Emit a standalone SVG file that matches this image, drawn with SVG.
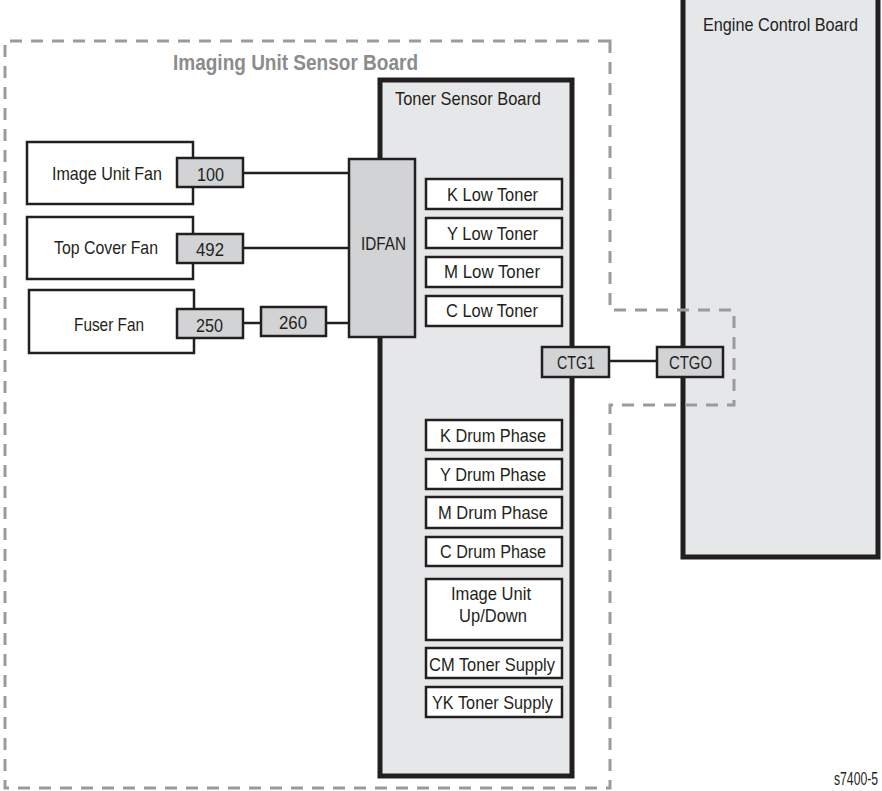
<svg xmlns="http://www.w3.org/2000/svg" width="882" height="791" viewBox="0 0 882 791">
<style>
text{font-family:"Liberation Sans Narrow","Liberation Sans",Arial,sans-serif;fill:#231f20;font-size:19px}
.board{fill:#e6e7e8;stroke:#231f20;stroke-width:5}
.box{fill:#fff;stroke:#231f20;stroke-width:2.5}
.conn{fill:#d1d3d4;stroke:#231f20;stroke-width:2.5}
.dash{fill:none;stroke:#999b9e;stroke-width:3;stroke-dasharray:12 9}
.wire{fill:none;stroke:#231f20;stroke-width:2.5}
.title{font-weight:bold;fill:#8a8c8e;font-size:22px}
</style>
<rect width="882" height="791" fill="#fff"/>
<g id="engine-control-board">
<rect class="board" x="683" y="-4" width="195" height="561"/>
<text x="703" y="31" textLength="155" lengthAdjust="spacingAndGlyphs">Engine Control Board</text>
</g>
<g id="imaging-unit-sensor-board">
<path class="dash" d="M610,41 H5 V788 H610 V405 H734 V310 H610 Z"/>
<text class="title" x="173" y="70" textLength="245" lengthAdjust="spacingAndGlyphs">Imaging Unit Sensor Board</text>
</g>
<g id="toner-sensor-board">
<rect class="board" x="380" y="80" width="192" height="696"/>
<text x="395" y="105" textLength="146" lengthAdjust="spacingAndGlyphs">Toner Sensor Board</text>
</g>
<g id="connectors">
<line class="wire" x1="243" y1="173" x2="349" y2="173"/>
<line class="wire" x1="243" y1="248" x2="349" y2="248"/>
<line class="wire" x1="243" y1="323" x2="261" y2="323"/>
<line class="wire" x1="326" y1="323" x2="349" y2="323"/>
<line class="wire" x1="609" y1="361" x2="657" y2="361"/>
</g>
<g id="image-unit-fan">
<rect class="box" x="27" y="142" width="166" height="62"/>
<text x="52" y="180" textLength="110" lengthAdjust="spacingAndGlyphs">Image Unit Fan</text>
<rect class="conn" x="177" y="158" width="66" height="29"/>
<text x="197" y="181" textLength="27" lengthAdjust="spacingAndGlyphs">100</text>
</g>
<g id="top-cover-fan">
<rect class="box" x="27" y="217" width="166" height="62"/>
<text x="54" y="254" textLength="104" lengthAdjust="spacingAndGlyphs">Top Cover Fan</text>
<rect class="conn" x="177" y="234" width="66" height="29"/>
<text x="196" y="256" textLength="28" lengthAdjust="spacingAndGlyphs">492</text>
</g>
<g id="fuser-fan">
<rect class="box" x="29" y="290" width="165" height="63"/>
<text x="74" y="331" textLength="70" lengthAdjust="spacingAndGlyphs">Fuser Fan</text>
<rect class="conn" x="177" y="309" width="66" height="29"/>
<text x="196" y="332" textLength="27" lengthAdjust="spacingAndGlyphs">250</text>
</g>
<g id="c260">
<rect class="conn" x="261" y="307" width="65" height="29"/>
<text x="279" y="329" textLength="28" lengthAdjust="spacingAndGlyphs">260</text>
</g>
<g id="idfan">
<rect class="conn" x="349" y="159" width="66" height="178"/>
<text x="361" y="250" textLength="45" lengthAdjust="spacingAndGlyphs">IDFAN</text>
</g>
<g id="k-low-toner"><rect class="box" x="426" y="179" width="136" height="30"/><text x="447" y="201" textLength="91" lengthAdjust="spacingAndGlyphs">K Low Toner</text></g>
<g id="y-low-toner"><rect class="box" x="426" y="218" width="136" height="30"/><text x="447" y="240" textLength="91" lengthAdjust="spacingAndGlyphs">Y Low Toner</text></g>
<g id="m-low-toner"><rect class="box" x="426" y="257" width="136" height="30"/><text x="444" y="278" textLength="96" lengthAdjust="spacingAndGlyphs">M Low Toner</text></g>
<g id="c-low-toner"><rect class="box" x="426" y="296" width="136" height="30"/><text x="446" y="317" textLength="92" lengthAdjust="spacingAndGlyphs">C Low Toner</text></g>
<g id="ctg1"><rect class="conn" x="542" y="347" width="67" height="30"/><text x="557" y="369" textLength="38" lengthAdjust="spacingAndGlyphs">CTG1</text></g>
<g id="ctgo"><rect class="conn" x="657" y="347" width="66" height="30"/><text x="669" y="369" textLength="43" lengthAdjust="spacingAndGlyphs">CTGO</text></g>
<g id="k-drum-phase"><rect class="box" x="426" y="420" width="136" height="30"/><text x="440" y="442" textLength="106" lengthAdjust="spacingAndGlyphs">K Drum Phase</text></g>
<g id="y-drum-phase"><rect class="box" x="426" y="459" width="136" height="30"/><text x="440" y="481" textLength="106" lengthAdjust="spacingAndGlyphs">Y Drum Phase</text></g>
<g id="m-drum-phase"><rect class="box" x="426" y="497" width="136" height="31"/><text x="438" y="519" textLength="110" lengthAdjust="spacingAndGlyphs">M Drum Phase</text></g>
<g id="c-drum-phase"><rect class="box" x="426" y="537" width="136" height="29"/><text x="440" y="558" textLength="106" lengthAdjust="spacingAndGlyphs">C Drum Phase</text></g>
<g id="image-unit-up-down"><rect class="box" x="426" y="579" width="136" height="61"/><text x="451" y="600" textLength="80" lengthAdjust="spacingAndGlyphs">Image Unit</text><text x="459" y="622" textLength="68" lengthAdjust="spacingAndGlyphs">Up/Down</text></g>
<g id="cm-toner-supply"><rect class="box" x="426" y="648" width="136" height="30"/><text x="429" y="671" textLength="126" lengthAdjust="spacingAndGlyphs">CM Toner Supply</text></g>
<g id="yk-toner-supply"><rect class="box" x="426" y="687" width="136" height="30"/><text x="432" y="709" textLength="121" lengthAdjust="spacingAndGlyphs">YK Toner Supply</text></g>
<text x="834" y="785" font-size="15" textLength="44" lengthAdjust="spacingAndGlyphs">s7400-5</text>
</svg>
